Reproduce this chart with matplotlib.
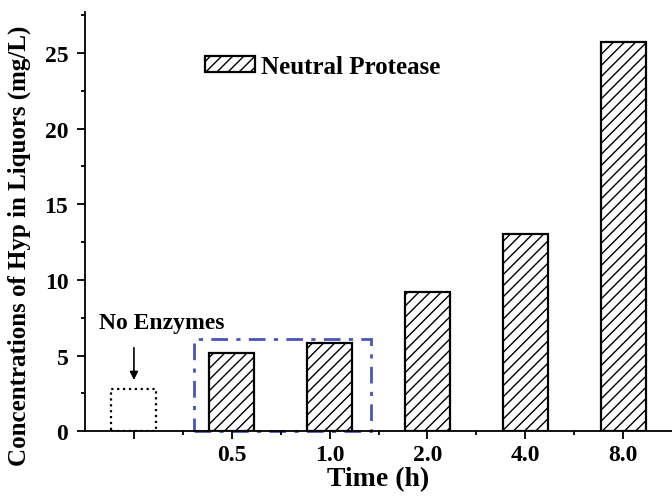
import matplotlib.pyplot as plt
from matplotlib.patches import Rectangle

# Data
times = ['', '0.5', '1.0', '2.0', '4.0', '8.0']
hyp_conc = [2.8, 5.2, 5.8, 9.2, 13.0, 25.7]

plt.rcParams['font.family'] = 'Liberation Serif'
plt.rcParams['font.weight'] = 'bold'
plt.rcParams['hatch.linewidth'] = 1.0

fig = plt.figure(figsize=(6.72, 5.02), dpi=100)
ax = fig.add_axes([0.1265, 0.139, 0.8735, 0.835])

x = list(range(len(times)))

# control bar (no enzymes): white with dotted outline
ax.bar(x[0], hyp_conc[0], width=0.46, facecolor='white', edgecolor='black',
       linestyle=':', linewidth=1.6)
# neutral protease bars
ax.bar(x[1:], hyp_conc[1:], width=0.46, facecolor='white', edgecolor='black',
       hatch='///', linewidth=1.6, label='Neutral Protease')

# blue dash-dot box around the 0.5 h and 1.0 h bars
ax.add_patch(Rectangle((0.61, 0), 1.81, 6.07, fill=False, edgecolor='#4a55b5',
                       linestyle=(0, (6, 3, 1.5, 3)), linewidth=2, clip_on=False))

ax.text(0.28, 6.5, 'No Enzymes', ha='center', va='bottom', fontsize=17, fontweight='bold')
ax.annotate('', xy=(0, 3.2), xytext=(0, 5.7),
            arrowprops=dict(arrowstyle='-|>', color='black', lw=1.2, mutation_scale=12))

ax.set_xlim(-0.5, 5.5)
ax.set_ylim(0, 27.7)
ax.set_xticks(x)
ax.set_xticklabels(times)
ax.set_xticks([i + 0.5 for i in x[:-1]], minor=True)
ax.set_yticks([0, 5, 10, 15, 20, 25])
ax.set_yticks([2.5, 7.5, 12.5, 17.5, 22.5, 27.5], minor=True)

for s in ['top', 'right']:
    ax.spines[s].set_visible(False)
for s in ['left', 'bottom']:
    ax.spines[s].set_linewidth(1.3)
ax.tick_params(which='major', direction='out', length=6, width=1.3, labelsize=17, pad=3)
ax.tick_params(axis='y', which='major', pad=6)
ax.tick_params(which='minor', direction='out', length=3, width=1.3)

ax.set_xlabel('Time (h)', fontsize=20, fontweight='bold', labelpad=1)
ax.set_ylabel('Concentrations of Hyp in Liquors (mg/L)', fontsize=18, fontweight='bold')
ax.yaxis.set_label_coords(-0.092, 0.445)

ax.legend(loc='center left', bbox_to_anchor=(0.204, 0.87), frameon=False,
          fontsize=18, handlelength=2.0, handleheight=0.6, handletextpad=0.25,
          borderpad=0, borderaxespad=0)

fig.savefig('out.png', dpi=100)
